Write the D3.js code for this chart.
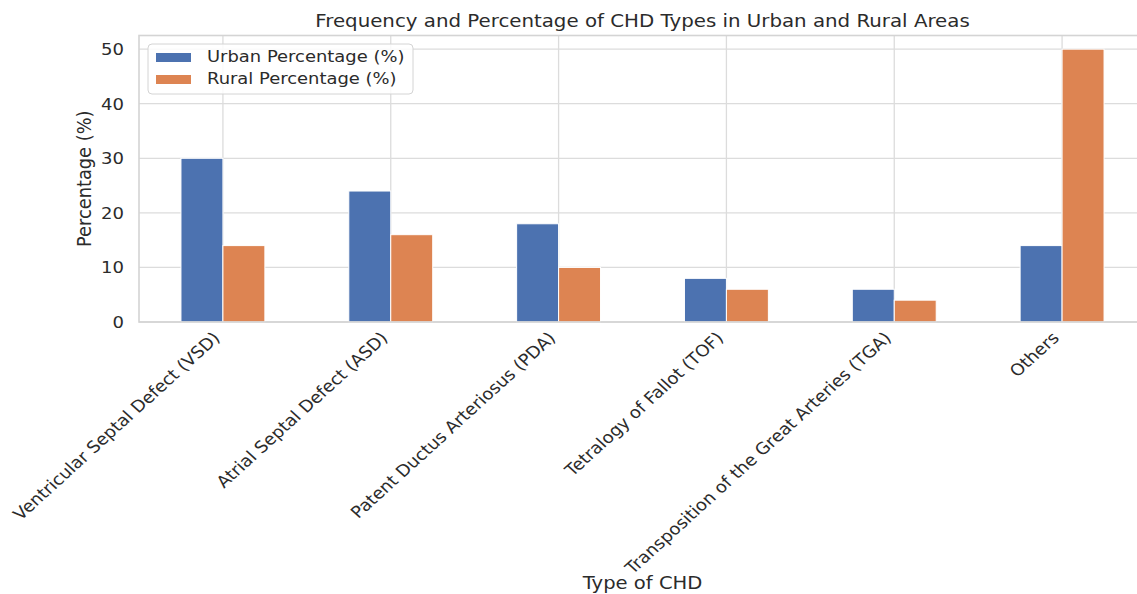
<!DOCTYPE html>
<html>
<head>
<meta charset="utf-8">
<script src="https://cdn.jsdelivr.net/npm/d3@7"></script>
<style>
  html, body { margin: 0; padding: 0; background: #ffffff; overflow: hidden; }
  svg { display: block; font-family: "DejaVu Sans", sans-serif; }
</style>
</head>
<body>
<svg id="chart" width="1137" height="594"></svg>
<script>
const categories = [
  "Ventricular Septal Defect (VSD)",
  "Atrial Septal Defect (ASD)",
  "Patent Ductus Arteriosus (PDA)",
  "Tetralogy of Fallot (TOF)",
  "Transposition of the Great Arteries (TGA)",
  "Others"
];
const urbanValues = [30, 24, 18, 8, 6, 14];
const ruralValues = [14, 16, 10, 6, 4, 50];
const seriesNames = ["Urban Percentage (%)", "Rural Percentage (%)"];
const seriesColors = ["#4c72b0", "#dd8452"];
const yTicks = [0, 10, 20, 30, 40, 50];
const titleText = "Frequency and Percentage of CHD Types in Urban and Rural Areas";
const xLabelText = "Type of CHD";
const yLabelText = "Percentage (%)";

const svg = d3.select("#chart");
const textColor = "#2b2b2b";
const gridColor = "#dcdcdc";
const sx = 1.1; // horizontal stretch of the reference image

const plot = { left: 139, right: 1146, top: 35.5, bottom: 322 };

const x = d3.scaleLinear().domain([-0.5, categories.length - 0.5]).range([plot.left, plot.right]);
const y = d3.scaleLinear().domain([0, 52.5]).range([plot.bottom, plot.top]);
const barW = 0.25;
const series = [urbanValues, ruralValues];

function stretchedText(parent, px, py, str, size, anchor, extra) {
  return parent.append("text")
    .attr("transform", `translate(${px},${py}) scale(${sx},1)` + (extra || ""))
    .attr("text-anchor", anchor)
    .attr("fill", textColor)
    .attr("font-size", size + "px")
    .text(str);
}

// gridlines
const g = svg.append("g");
g.selectAll("line.hgrid").data(yTicks).enter().append("line")
  .attr("x1", plot.left).attr("x2", plot.right)
  .attr("y1", d => y(d)).attr("y2", d => y(d))
  .attr("stroke", gridColor).attr("stroke-width", 1.3);
g.selectAll("line.vgrid").data(categories).enter().append("line")
  .attr("x1", (d, i) => x(i)).attr("x2", (d, i) => x(i))
  .attr("y1", plot.top).attr("y2", plot.bottom)
  .attr("stroke", gridColor).attr("stroke-width", 1.3);

// bars
series.forEach((vals, s) => {
  g.selectAll("rect.s" + s).data(vals).enter().append("rect")
    .attr("x", (d, i) => x(i - barW + s * barW))
    .attr("width", x(barW) - x(0))
    .attr("y", d => y(d))
    .attr("height", d => y(0) - y(d))
    .attr("fill", seriesColors[s])
    .attr("stroke", "#ffffff").attr("stroke-width", 1);
});

// spines
svg.append("rect")
  .attr("x", plot.left).attr("y", plot.top)
  .attr("width", plot.right - plot.left).attr("height", plot.bottom - plot.top)
  .attr("fill", "none").attr("stroke", "#d4d4d4").attr("stroke-width", 1.6);

// y tick labels
const yg = svg.append("g");
yTicks.forEach(t => {
  stretchedText(yg, plot.left - 15, y(t) + 6, String(t), 16.4, "end");
});

// x tick labels (rotated)
const xg = svg.append("g");
categories.forEach((c, i) => {
  stretchedText(xg, x(i) - 2, plot.bottom + 17, c, 16.4, "end", " rotate(-45)");
});

// title
stretchedText(svg, (plot.left + plot.right) / 2, 27, titleText, 18, "middle");

// axis labels
stretchedText(svg, (plot.left + plot.right) / 2, 589, xLabelText, 17.8, "middle");
stretchedText(svg, 91, (plot.top + plot.bottom) / 2, yLabelText, 17.8, "middle", " rotate(-90)");

// legend
const lg = svg.append("g").attr("transform", "translate(148,44)");
lg.append("rect").attr("x", 0).attr("y", 0).attr("width", 265).attr("height", 50)
  .attr("rx", 4).attr("fill", "#ffffff").attr("fill-opacity", 0.85)
  .attr("stroke", "#d4d4d4").attr("stroke-width", 1);
seriesNames.forEach((name, i) => {
  lg.append("rect").attr("x", 8).attr("y", 9 + i * 22).attr("width", 35).attr("height", 9)
    .attr("fill", seriesColors[i]);
  stretchedText(lg, 59, 18 + i * 22, name, 16.3, "start");
});
</script>
</body>
</html>
